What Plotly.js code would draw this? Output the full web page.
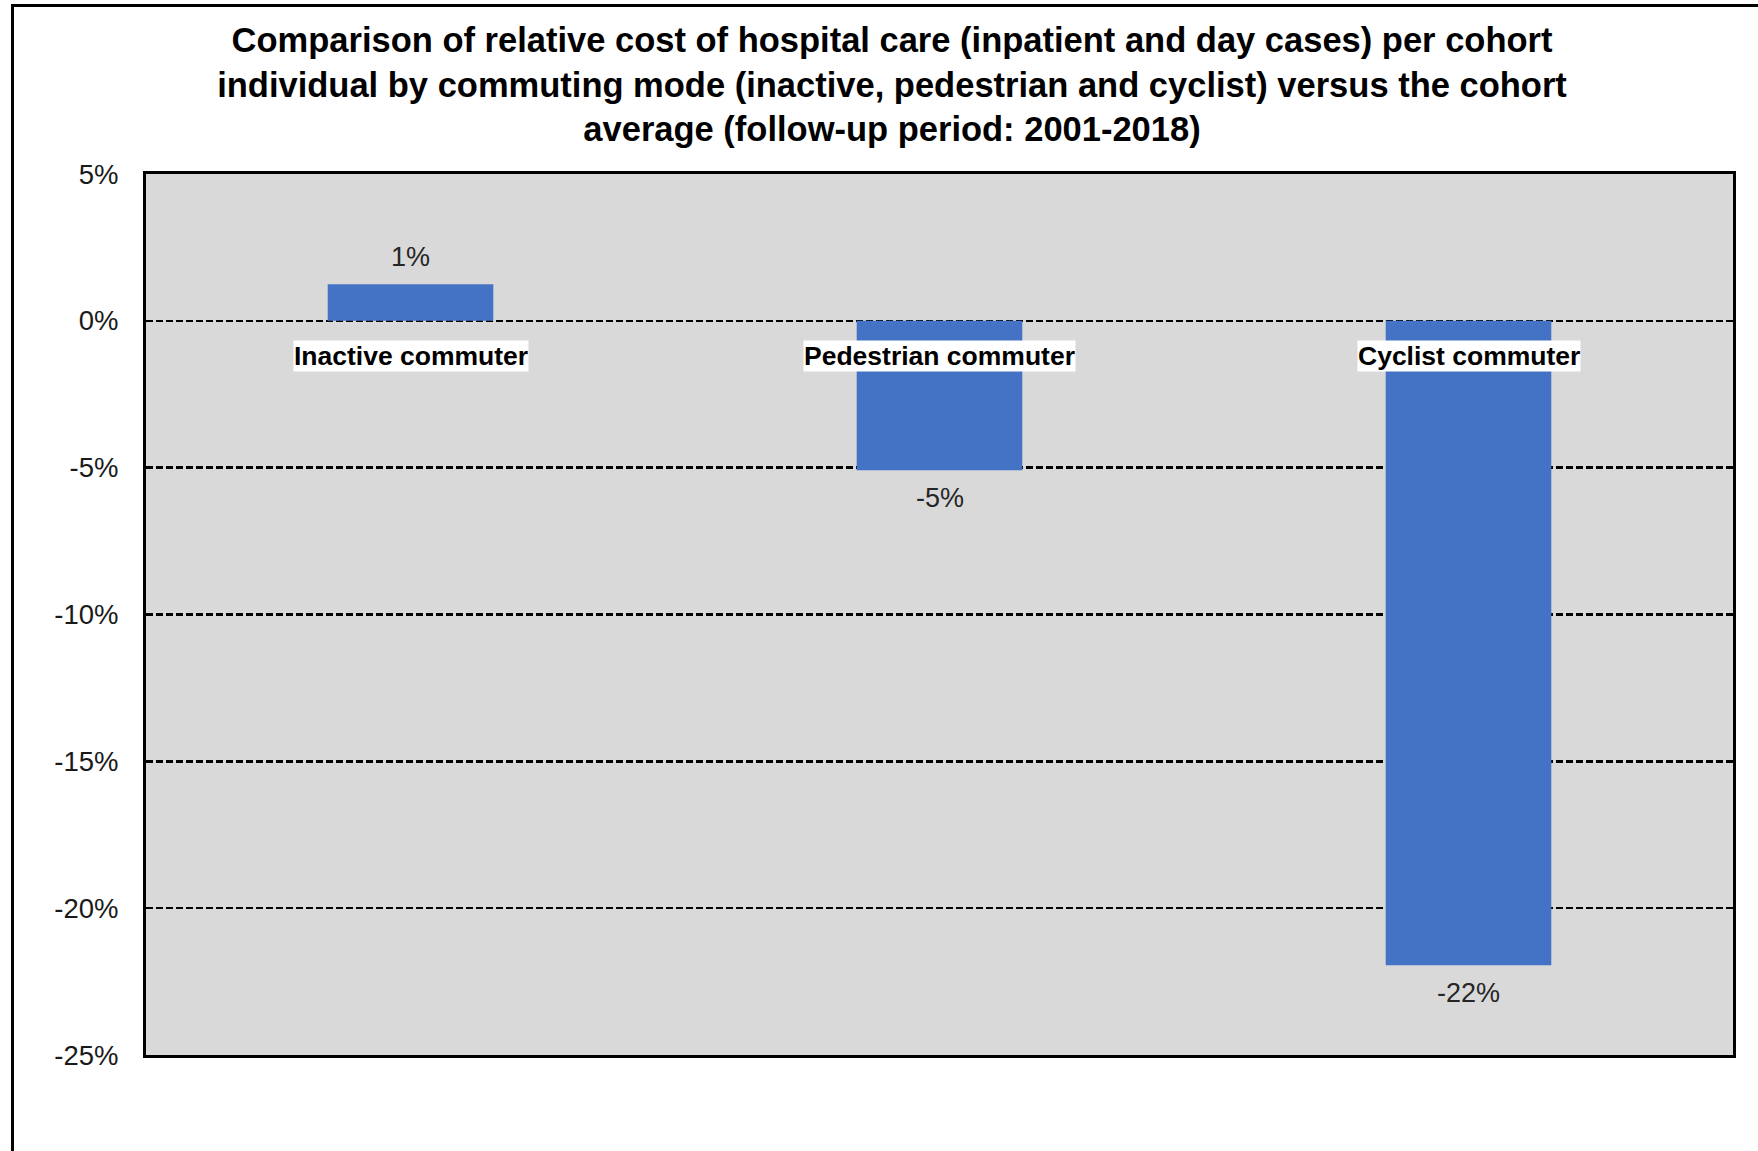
<!DOCTYPE html>
<html><head><meta charset="utf-8">
<script src="https://cdn.plot.ly/plotly-3.0.1.min.js"></script>
<style>
html,body{margin:0;padding:0;background:#fff;}
#wrap{position:relative;width:1758px;height:1151px;overflow:hidden;}
#chart{position:absolute;left:0;top:0;width:1758px;height:1151px;}
#frame{position:absolute;left:11px;top:4px;width:1800px;height:1200px;border-left:3px solid #000;border-top:3px solid #000;pointer-events:none;}
</style></head>
<body><div id="wrap"><div id="chart"></div><div id="frame"></div></div>
<script>
const categories = ["Inactive commuter", "Pedestrian commuter", "Cyclist commuter"];
const values = [1.25, -5.09, -21.94];
const valueLabels = ["1%", "-5%", "-22%"];
const yTickValues = [5, 0, -5, -10, -15, -20, -25];
const yTickLabels = ["5%", "0%", "-5%", "-10%", "-15%", "-20%", "-25%"];
const titleLines = [
  "Comparison of relative cost of hospital care (inpatient and day cases) per cohort",
  "individual by commuting mode (inactive, pedestrian and cyclist) versus the cohort",
  "average (follow-up period: 2001-2018)"
];

const FONT = "Liberation Sans, Arial, Helvetica, sans-serif";

const trace = {
  type: "bar",
  x: categories,
  y: values,
  marker: {color: "#4472c4", line: {width: 0}},
  hoverinfo: "skip",
  cliponaxis: false
};

const annotations = [];
categories.forEach((c, i) => {
  annotations.push({
    x: c, y: values[i], xref: "x", yref: "y",
    text: valueLabels[i], showarrow: false,
    yanchor: "middle", xanchor: "center",
    yshift: values[i] >= 0 ? 27 : -28,
    font: {family: FONT, size: 27, color: "#262626"}
  });
  annotations.push({
    x: c, y: 0, xref: "x", yref: "y",
    text: "<b>" + c + "</b>", showarrow: false,
    yanchor: "middle", xanchor: "center",
    yshift: -35,
    bgcolor: "#ffffff", borderpad: 0,
    font: {family: FONT, size: 26.5, color: "#000000"}
  });
});

const layout = {
  width: 1758, height: 1151,
  margin: {l: 146, r: 25, t: 174, b: 96, pad: 0},
  paper_bgcolor: "#ffffff",
  plot_bgcolor: "#d9d9d9",
  showlegend: false,
  bargap: 0.687,
  title: {
    text: "<b>" + titleLines.join("<br>") + "</b>",
    font: {family: FONT, size: 34.5, color: "#000000"},
    x: 0.5074, xref: "container", xanchor: "center",
    y: 0.955, yref: "container", yanchor: "middle"
  },
  xaxis: {
    type: "category",
    range: [-0.5, 2.5],
    showticklabels: false,
    showgrid: false,
    zeroline: false,
    showline: true, mirror: true, linecolor: "#000000", linewidth: 3,
    ticks: "",
    fixedrange: true
  },
  yaxis: {
    range: [-25, 5],
    tickmode: "array",
    tickvals: yTickValues,
    ticktext: yTickLabels,
    showgrid: true, gridcolor: "#000000", gridwidth: 2.5, griddash: "7px,3px",
    zeroline: false,
    showline: true, mirror: true, linecolor: "#000000", linewidth: 3,
    ticks: "",
    ticklabelstandoff: 19,
    tickfont: {family: FONT, size: 27.5, color: "#1a1a1a"},
    fixedrange: true
  },
  annotations: annotations
};

Plotly.newPlot("chart", [trace], layout, {displayModeBar: false, staticPlot: true});
</script>
</body></html>
